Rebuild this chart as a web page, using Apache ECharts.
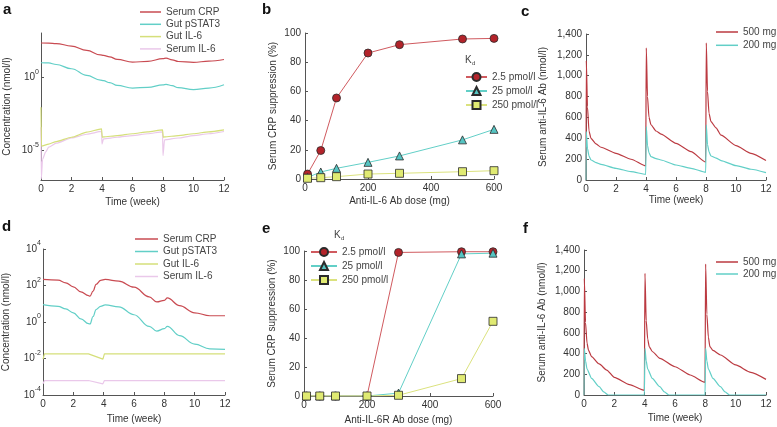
<!DOCTYPE html>
<html>
<head>
<meta charset="utf-8">
<script src="https://cdn.jsdelivr.net/npm/echarts@6/dist/echarts.min.js"></script>
<style>
html, body { margin: 0; padding: 0; background: #fff; }
#chart { width: 777px; height: 427px; }
</style>
</head>
<body>
<div id="chart"></div>
<script>
// ---- panel a: model with anti-IL-6 Ab (nmol/l over weeks)
var aCrpT = [0, 0.5, 1, 2, 3, 3.9, 4.1, 4.5, 5, 6, 7, 8, 8.2, 8.6, 9, 10, 11, 12];
var aCrp = [209, 207, 192, 130, 66, 32, 30, 24, 16, 10.5, 11.7, 18, 19.5, 15, 11.5, 10, 12.3, 15.8];
var aStatT = [0, 0.5, 1, 2, 3, 3.9, 4.1, 4.5, 5, 6, 7, 8, 8.2, 8.6, 9, 10, 11, 12];
var aStat = [9.5, 9.2, 7.2, 3.7, 1.3, 0.62, 0.57, 0.42, 0.27, 0.18, 0.2, 0.3, 0.32, 0.26, 0.19, 0.14, 0.18, 0.3];
var aGutT = [0, 0.03, 0.5, 1, 2, 3, 3.97, 4.02, 4.1, 5, 6, 7, 7.97, 8.02, 8.1, 9, 10, 11, 12];
var aGut = [8.9e-3, 2.0e-5, 2.8e-5, 4.1e-5, 8.1e-5, 1.8e-4, 3.0e-4, 8.1e-5, 8.5e-5, 1.05e-4, 1.4e-4, 1.9e-4, 2.6e-4, 8.1e-5, 8.5e-5, 1.05e-4, 1.4e-4, 1.9e-4, 2.6e-4];
var aSerT = [0, 0.02, 0.1, 0.3, 0.5, 1, 2, 3, 3.97, 4.0, 4.1, 5, 6, 7, 7.97, 8.0, 8.1, 9, 10, 11, 12];
var aSer = [3.9e-4, 1.2e-7, 2.5e-6, 7.9e-6, 1.7e-5, 3.2e-5, 7.2e-5, 1.3e-4, 2.0e-4, 2.8e-5, 6.3e-5, 8.1e-5, 1.05e-4, 1.4e-4, 1.9e-4, 4.6e-6, 5.4e-5, 7.2e-5, 1.05e-4, 1.4e-4, 2.0e-4];

// ---- panel d: model with anti-IL-6R Ab
var dCrpT = [0, 1, 1.5, 2, 2.5, 3, 3.1, 3.3, 3.5, 3.8, 4.1, 5, 6, 7, 7.5, 8, 8.2, 9, 10, 11, 12];
var dCrp = [214, 195, 141, 85, 45, 28, 26, 49, 115, 191, 214, 174, 81, 24, 12.6, 15.5, 21, 7.9, 3.2, 2.2, 2.2];
var dStat = [8.9, 7.2, 5.2, 3.2, 1.5, 0.81, 0.78, 2.0, 4.8, 7.2, 8.7, 6.8, 2.5, 0.58, 0.32, 0.43, 0.58, 0.18, 0.062, 0.034, 0.032];
var dIlT = [0, 0.05, 0.1, 3, 3.95, 4, 4.05, 12];
var dGut = [0.0092, 0.0092, 0.018, 0.018, 0.0092, 0.0092, 0.018, 0.018];
var dSer = [4.1e-4, 4.1e-4, 6.2e-4, 6.2e-4, 4.1e-4, 4.1e-4, 6.2e-4, 6.2e-4];

// ---- panels b / e: CRP suppression (%) vs dose
var doses = [8, 50, 100, 200, 300, 500, 600];
var bHigh = [3.4, 19.5, 55.5, 86.3, 92, 95.9, 96.3];
var bMid = [1, 4.8, 7.3, 11.4, 15.8, 26.8, 34];
var bLow = [0.5, 0.9, 1.6, 3.4, 3.9, 5, 5.7];
var eHigh = [0, 0, 0, 0, 99, 99.5, 99.5];
var eMid = [0, 0, 0, 0, 2, 98, 98.5];
var eLow = [0, 0, 0, 0, 0.5, 12, 51.5];

// ---- panel c: serum anti-IL-6 Ab
var cT = [0, 0.02, 0.1, 0.2, 0.33, 0.67, 1, 2, 3, 3.98, 4.02, 4.1, 4.2, 4.33, 4.67, 5, 6, 7, 7.98, 8.02, 8.1, 8.2, 8.33, 8.67, 9, 10, 11, 12];
var c500 = [0, 1144, 700, 470, 400, 346, 314, 256, 199, 135, 1266, 800, 600, 530, 470, 440, 352, 272, 172, 1314, 850, 640, 560, 500, 430, 330, 256, 186];
var c200 = [0, 465, 300, 230, 192, 167, 150, 112, 80, 54, 513, 330, 260, 224, 205, 192, 144, 112, 74, 529, 340, 270, 230, 210, 186, 138, 103, 70];

// ---- panel f: serum anti-IL-6 Ab (IL-6R model)
var fT = [0, 0.02, 0.1, 0.2, 0.3, 0.5, 1, 1.5, 2, 3, 3.98, 4.02, 4.1, 4.2, 4.3, 4.5, 5, 6, 7, 7.98, 8.02, 8.1, 8.2, 8.3, 8.5, 9, 10, 11, 12];
var f500 = [0, 1126, 700, 500, 430, 370, 300, 241, 170, 100, 45, 1175, 720, 540, 467, 420, 354, 273, 193, 122, 1265, 780, 560, 467, 430, 386, 290, 219, 151];
var fTealT = [0, 0.02, 0.1, 0.2, 0.5, 1, 1.3, 1.6, 3.98, 4.02, 4.1, 4.2, 4.5, 5, 5.3, 5.6, 7.98, 8.02, 8.1, 8.2, 8.5, 9, 9.3, 9.6, 12];
var f200 = [0, 450, 330, 250, 160, 80, 30, 0, 0, 450, 330, 250, 160, 80, 30, 0, 0, 450, 330, 250, 160, 80, 30, 0, 0];

var logTicksA = [1e-5, 1];
var logTicksD = [1e-4, 1e-2, 1, 1e2, 1e4];

var FONT = '"Liberation Sans", Arial, Helvetica, sans-serif';
var RED = '#c94b52', TEAL = '#62cfc7', OLIVE = '#d5df7a', PINK = '#eac8ea', DRED = '#bb3a41';

function pairs(t, v) {
    return t.map(function (x, i) { return [x, v[i]]; });
}

function base(extra) {
    var ax = {
        nameLocation: 'middle',
        nameTextStyle: { color: '#333', fontSize: 10, fontFamily: FONT },
        axisLine: { lineStyle: { color: '#555', width: 1 } },
        axisTick: { inside: true, length: 3, lineStyle: { color: '#555' } },
        axisLabel: { color: '#333', fontSize: 10, fontFamily: FONT, margin: 4 },
        splitLine: { show: false }
    };
    for (var k in extra) {
        if (typeof extra[k] === 'object' && ax[k] && !Array.isArray(extra[k])) {
            ax[k] = Object.assign({}, ax[k], extra[k]);
        } else {
            ax[k] = extra[k];
        }
    }
    return ax;
}

function timeAxis(idx, gap) {
    return base({ gridIndex: idx, type: 'value', min: 0, max: 12, interval: 2, name: 'Time (week)', nameGap: gap });
}
function doseAxis(idx, name, gap) {
    return base({ gridIndex: idx, type: 'value', min: 0, max: 600, interval: 200, name: name, nameGap: gap });
}
function powLabel(v) {
    var e = Math.round(Math.log(v) / Math.LN10);
    return '10{s|' + e + '}';
}
function logAxis(idx, min, max, ticks, gap) {
    return base({
        gridIndex: idx, type: 'log', logBase: 10, min: min, max: max,
        name: 'Concentration (nmol/l)', nameGap: gap,
        axisTick: { customValues: ticks },
        axisLabel: { customValues: ticks, formatter: powLabel, margin: 2, lineHeight: 18,
            rich: { s: { fontSize: 7, lineHeight: 7, verticalAlign: 'top', color: '#333', fontFamily: FONT } } }
    });
}
function thousands(v) {
    return v.toLocaleString('en-US');
}

function curve(name, xi, t, v, color, smooth) {
    return {
        name: name, type: 'line', xAxisIndex: xi, yAxisIndex: xi,
        data: pairs(t, v), symbol: 'none', showSymbol: false,
        smooth: smooth, smoothMonotone: 'x', color: color,
        lineStyle: { color: color, width: 1.2 }
    };
}
function doseLine(name, xi, v, sym, fill, line) {
    return {
        name: name, type: 'line', xAxisIndex: xi, yAxisIndex: xi,
        data: pairs(doses, v), symbol: sym, symbolSize: 8,
        itemStyle: { color: fill, borderColor: '#2b2b2b', borderWidth: 0.8 },
        lineStyle: { color: line, width: 1 }
    };
}
function lineLegend(left, top, gap, width, names) {
    return {
        left: left, top: top, orient: 'vertical', padding: 0, itemGap: gap,
        itemWidth: width, itemHeight: 1.5, icon: 'rect', selectedMode: false,
        textStyle: { color: '#444', fontSize: 10, fontFamily: FONT, lineHeight: 12 },
        data: names
    };
}
function markLegend(left, top, width, names) {
    return {
        left: left, top: top, orient: 'vertical', padding: 0, itemGap: 2,
        itemWidth: width, itemHeight: 10, selectedMode: false,
        textStyle: { color: '#444', fontSize: 10, fontFamily: FONT, lineHeight: 12 },
        data: names
    };
}
function letter(s, x, y) {
    return { type: 'text', left: x, top: y, style: { text: s, fontSize: 15, fontWeight: 'bold', fill: '#111', fontFamily: FONT } };
}
function txt(s, x, y, size) {
    return { type: 'text', left: x, top: y, style: { text: s, fontSize: size, fill: '#444', fontFamily: FONT } };
}

var chart = echarts.init(document.getElementById('chart'));
chart.setOption({
    animation: false,
    backgroundColor: '#fff',
    grid: [
        { left: 41, top: 33, width: 183, height: 147 },
        { left: 305, top: 33, width: 189, height: 146 },
        { left: 586, top: 34, width: 180, height: 146 },
        { left: 43, top: 249, width: 182, height: 146 },
        { left: 304, top: 251, width: 189, height: 145 },
        { left: 584, top: 250, width: 182, height: 145 }
    ],
    xAxis: [
        timeAxis(0, 17),
        doseAxis(1, 'Anti-IL-6 Ab dose (mg)', 17),
        timeAxis(2, 15),
        timeAxis(3, 19),
        doseAxis(4, 'Anti-IL-6R Ab dose (mg)', 19),
        timeAxis(5, 18)
    ],
    yAxis: [
        logAxis(0, 1e-7, 1e3, logTicksA, 29),
        base({ gridIndex: 1, type: 'value', min: 0, max: 100, interval: 20, name: 'Serum CRP suppression (%)', nameGap: 27 }),
        base({ gridIndex: 2, type: 'value', min: 0, max: 1400, interval: 200, name: 'Serum anti-IL-6 Ab (nmol/l)', nameGap: 38,
            axisLabel: { formatter: thousands } }),
        logAxis(3, 1e-4, 1e4, logTicksD, 32),
        base({ gridIndex: 4, type: 'value', min: 0, max: 100, interval: 20, name: 'Serum CRP suppression (%)', nameGap: 27 }),
        base({ gridIndex: 5, type: 'value', min: 0, max: 1400, interval: 200, name: 'Serum anti-IL-6 Ab (nmol/l)', nameGap: 37,
            axisLabel: { formatter: thousands } })
    ],
    legend: [
        lineLegend(140, 6, 0.3, 21, ['Serum CRP', 'Gut pSTAT3', 'Gut IL-6', 'Serum IL-6']),
        markLegend(465, 71, 21, ['2.5 pmol/l', '25 pmol/l', '250 pmol/l']),
        lineLegend(716, 26, 1.3, 22, ['500 mg', '200 mg']),
        lineLegend(135, 233, 0.5, 23, ['Serum CRP', 'Gut pSTAT3', 'Gut IL-6', 'Serum IL-6']),
        markLegend(310, 246, 26, ['2.5 pmol/l', '25 pmol/l', '250 pmol/l']),
        lineLegend(716, 256, 0, 22, ['500 mg', '200 mg'])
    ],
    graphic: [
        letter('a', 3, 2), letter('b', 262, 2), letter('c', 521, 4),
        letter('d', 2, 219), letter('e', 262, 221), letter('f', 523, 221),
        txt('K', 465, 55, 10), txt('d', 472, 60, 6),
        txt('K', 334, 230, 10), txt('d', 341, 235, 6)
    ],
    series: [
        curve('Serum CRP', 0, aCrpT, aCrp, RED, 0.4),
        curve('Gut pSTAT3', 0, aStatT, aStat, TEAL, 0.4),
        curve('Serum IL-6', 0, aSerT, aSer, PINK, 0.2),
        curve('Gut IL-6', 0, aGutT, aGut, OLIVE, 0.2),

        doseLine('2.5 pmol/l', 1, bHigh, 'circle', '#b3232a', '#d05a5f'),
        doseLine('25 pmol/l', 1, bMid, 'triangle', '#55c4c2', '#62cfc7'),
        doseLine('250 pmol/l', 1, bLow, 'rect', '#e0ea72', '#dbe27e'),

        curve('500 mg', 2, cT, c500, DRED, 0.2),
        curve('200 mg', 2, cT, c200, TEAL, 0.2),

        curve('Serum CRP', 3, dCrpT, dCrp, RED, 0.4),
        curve('Gut pSTAT3', 3, dCrpT, dStat, TEAL, 0.4),
        curve('Serum IL-6', 3, dIlT, dSer, PINK, 0),
        curve('Gut IL-6', 3, dIlT, dGut, OLIVE, 0),

        doseLine('2.5 pmol/l', 4, eHigh, 'circle', '#b3232a', '#d05a5f'),
        doseLine('25 pmol/l', 4, eMid, 'triangle', '#55c4c2', '#62cfc7'),
        doseLine('250 pmol/l', 4, eLow, 'rect', '#e0ea72', '#dbe27e'),

        curve('500 mg', 5, fT, f500, DRED, 0.2),
        curve('200 mg', 5, fTealT, f200, TEAL, 0.2)
    ]
});
</script>
</body>
</html>
